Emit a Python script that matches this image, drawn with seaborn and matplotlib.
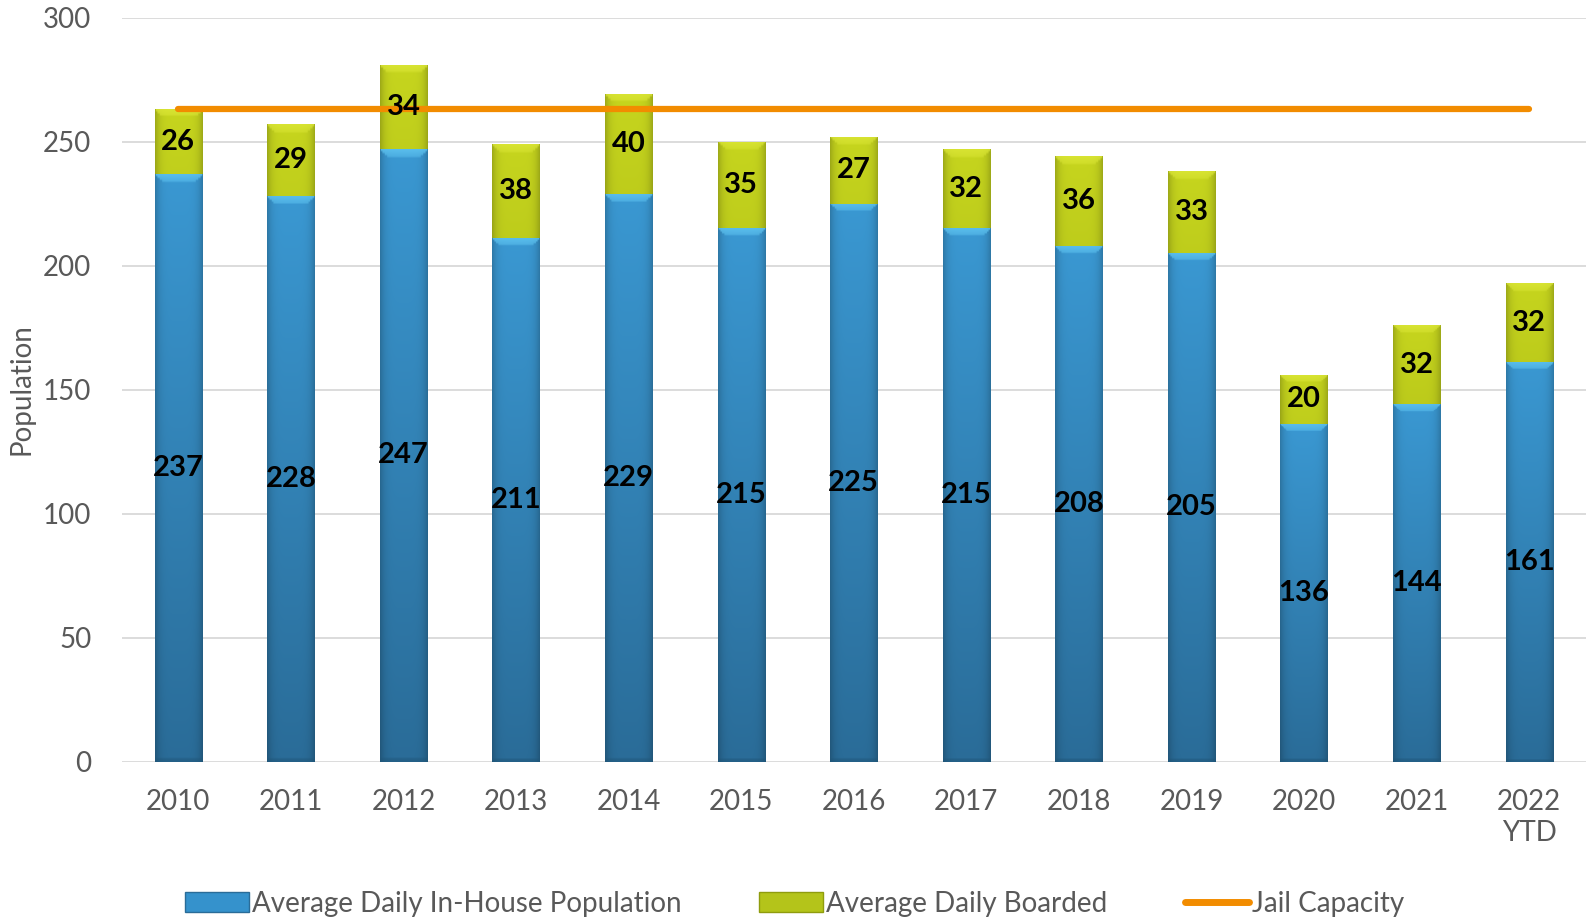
import numpy as np
import pandas as pd
import matplotlib
matplotlib.use("Agg")
import matplotlib.pyplot as plt
import seaborn as sns
from matplotlib.patches import Patch
from matplotlib.lines import Line2D
from matplotlib.colors import to_rgb

years = ["2010", "2011", "2012", "2013", "2014", "2015", "2016", "2017",
         "2018", "2019", "2020", "2021", "2022\nYTD"]
in_house = [237, 228, 247, 211, 229, 215, 225, 215, 208, 205, 136, 144, 161]
boarded = [26, 29, 34, 38, 40, 35, 27, 32, 36, 33, 20, 32, 32]
capacity = [263] * 13

df = pd.DataFrame({"year": years, "in_house": in_house, "boarded": boarded,
                   "capacity": capacity})
df["total"] = df["in_house"] + df["boarded"]
df["pos"] = np.arange(len(df))

sns.set_theme(style="white")
plt.rcParams["font.family"] = ["Lato", "DejaVu Sans"]

fig = plt.figure(figsize=(15.89, 9.22), dpi=100)
ax = fig.add_axes([0.0768, 0.174, 0.921, 0.807])

BLUE = "#3592CC"
GREEN = "#B4C41A"
ORANGE = "#F28C00"

sns.barplot(data=df, x="year", y="total", color=GREEN, width=0.42,
            saturation=1, ax=ax, zorder=2, linewidth=0)
sns.barplot(data=df, x="year", y="in_house", color=BLUE, width=0.42,
            saturation=1, ax=ax, zorder=2, linewidth=0)

# gradient / bevel shading of bars
def shade(patch, top, bottom, bevel_light, bevel_dark):
    x0, y0 = patch.get_x(), patch.get_y()
    w, h = patch.get_width(), patch.get_height()
    if h <= 0:
        return
    ny, nx = 300, 60
    v = np.linspace(0, 1, ny)[:, None]  # 0 top -> 1 bottom
    u = np.linspace(0, 1, nx)[None, :]
    t = np.array(to_rgb(top)); b = np.array(to_rgb(bottom))
    img = t[None, None, :] * (1 - v[..., None]) + b[None, None, :] * v[..., None]
    edge = 1 - 0.2 * np.abs(2 * u - 1) ** 5
    img = img * edge[..., None]
    # bevel at top of segment: trapezoid lighter strip
    bev = min(2.6 / h, 0.3)
    lt = np.array(to_rgb(bevel_light))
    depth = v / bev
    side = np.minimum(u, 1 - u) / 0.25
    mask = (depth < 1) & (side > depth * 0.6)
    alpha = np.where(mask, 0.75 * (1 - 0.4 * depth), 0.0)
    img = img * (1 - alpha[..., None]) + lt[None, None, :] * alpha[..., None]
    frac2 = min(1.0 / h, 0.1)
    rows2 = v[:, 0] > 1 - frac2
    dk = np.array(to_rgb(bevel_dark))
    img[rows2, :, :] = 0.5 * img[rows2, :, :] + 0.5 * dk[None, None, :]
    im = ax.imshow(np.clip(img, 0, 1), extent=[x0, x0 + w, y0, y0 + h],
                   aspect="auto", zorder=2.5, interpolation="bilinear")
    im.set_clip_path(patch)

n = len(df)
green_patches = ax.patches[:n]
blue_patches = ax.patches[n:2 * n]
for p in green_patches:
    shade(p, "#C6D51E", "#8F9C0E", "#DDE838", "#6E7A08")
for p in blue_patches:
    shade(p, "#3A98D2", "#2A6C98", "#62C8F4", "#1F5578")
ax.set_xlim(-0.5, n - 0.5)

sns.lineplot(data=df, x="pos", y="capacity", color=ORANGE, linewidth=4.5,
             ax=ax, zorder=4, solid_capstyle="round")

# data labels
for i, row in df.iterrows():
    ax.text(row["pos"], row["in_house"] / 2, str(row["in_house"]),
            ha="center", va="center", fontsize=21, fontweight="bold",
            color="black", zorder=5)
    ax.text(row["pos"], row["in_house"] + row["boarded"] / 2, str(row["boarded"]),
            ha="center", va="center", fontsize=21, fontweight="bold",
            color="black", zorder=5)

ax.set_ylim(0, 300)
ax.set_yticks(range(0, 301, 50))
ax.set_xticks(range(n))
ax.set_xticklabels(years)
ax.yaxis.grid(True, color="#D9D9D9", linewidth=1.3, zorder=0)
ax.set_axisbelow(True)
for s in ax.spines.values():
    s.set_visible(False)
ax.tick_params(axis="both", length=0, labelsize=20, labelcolor="#595959")
ax.tick_params(axis="x", pad=20)
ax.tick_params(axis="y", pad=22)
ax.set_xlabel("")
ax.set_ylabel("Population", fontsize=20, color="#595959", labelpad=6)

handles = [Patch(facecolor=BLUE, edgecolor="#2A6C98"),
           Patch(facecolor=GREEN, edgecolor="#8F9C0E"),
           Line2D([0], [0], color=ORANGE, linewidth=5, solid_capstyle="round")]
labels = ["Average Daily In-House Population", "Average Daily Boarded",
          "Jail Capacity"]
leg = fig.legend(handles, labels, loc="center", bbox_to_anchor=(0.5, 0.02),
                 ncol=3, frameon=False, fontsize=20, handlelength=2.3,
                 handleheight=0.7, handletextpad=0.1, columnspacing=2.8)
for t in leg.get_texts():
    t.set_color("#595959")

fig.savefig("out.png", dpi=100)
